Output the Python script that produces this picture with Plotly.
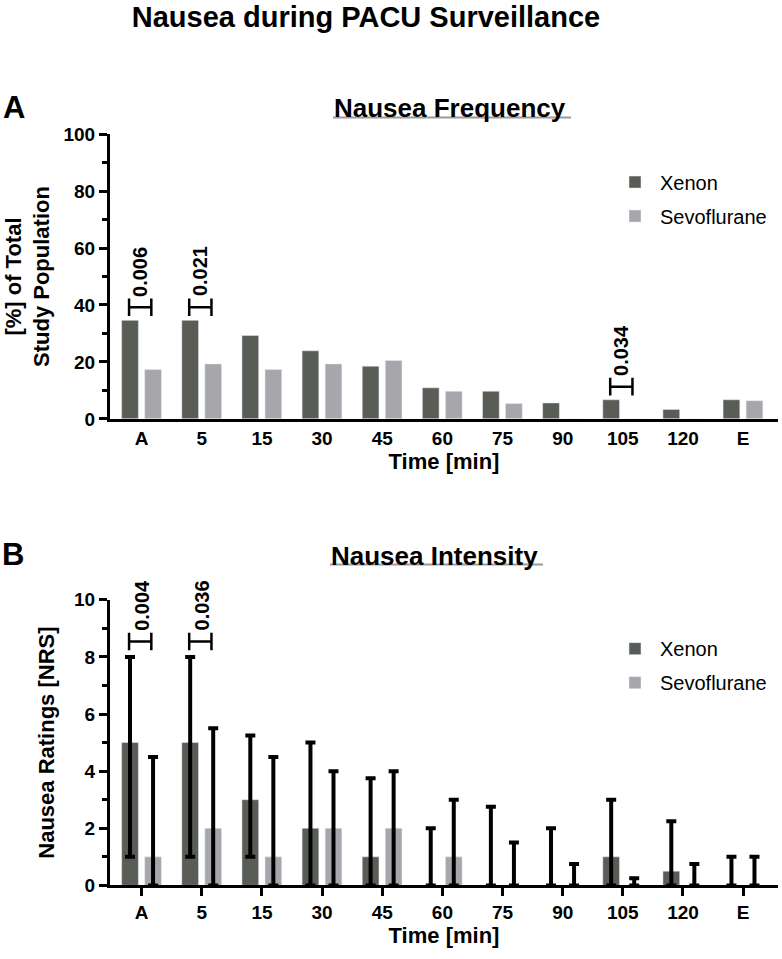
import plotly.graph_objects as go

# ---------------- data ----------------
time_points = ["A", "5", "15", "30", "45", "60", "75", "90", "105", "120", "E"]

# Panel A: nausea frequency [% of total study population]
freq_xenon = [34.6, 34.6, 29.3, 23.9, 18.5, 10.9, 9.7, 5.6, 6.7, 3.3, 6.7]
freq_sevo = [17.3, 19.3, 17.3, 19.3, 20.5, 9.7, 5.4, 0, 0, 0, 6.4]

# Panel B: nausea intensity (median, lower/upper quartile) [NRS]
int_xenon = [5, 5, 3, 2, 1, 0, 0, 0, 1, 0.5, 0]
int_xenon_lo = [1, 1, 1, 0, 0, 0, 0, 0, 0, 0, 0]
int_xenon_hi = [8, 8, 5.25, 5, 3.75, 2, 2.75, 2, 3, 2.25, 1]
int_sevo = [1, 2, 1, 2, 2, 1, 0, 0, 0, 0, 0]
int_sevo_lo = [0, 0, 0, 0, 0, 0, 0, 0, 0, 0, 0]
int_sevo_hi = [4.5, 5.5, 4.5, 4, 4, 3, 1.5, 0.75, 0.25, 0.75, 1]

# significance markers
sigA_idx = [0, 1, 8]
sigA_level = [39.2, 39.2, 11.3]
sigA_p = ["0.006", "0.021", "0.034"]
sigB_idx = [0, 1]
sigB_level = [8.54, 8.54]
sigB_p = ["0.004", "0.036"]

# ---------------- style ----------------
W, H = 782, 959
FONT = "Liberation Sans, Arial, sans-serif"
C_XE = "#5a5c56"
C_SE = "#a7a7ab"
BAR_W = 0.278
OFF_XE = -0.333
OFF_SE = 0.05

xpos = list(range(len(time_points)))

def py(px):  # pixel from top -> paper fraction
    return 1 - px / H

def pxx(px):
    return px / W

fig = go.Figure()

# Panel A bars
fig.add_trace(go.Bar(x=xpos, y=freq_xenon, name="Xenon", marker_color=C_XE,
                     width=BAR_W, offset=OFF_XE, xaxis="x", yaxis="y",
                     legend="legend", legendgroup="xa"))
fig.add_trace(go.Bar(x=xpos, y=freq_sevo, name="Sevoflurane", marker_color=C_SE,
                     width=BAR_W, offset=OFF_SE, xaxis="x", yaxis="y",
                     legend="legend", legendgroup="sa"))

# Panel B bars with quartile whiskers
fig.add_trace(go.Bar(
    x=xpos, y=int_xenon, name="Xenon", marker_color=C_XE,
    width=BAR_W, offset=OFF_XE, xaxis="x2", yaxis="y2",
    legend="legend2", legendgroup="xb",
    error_y=dict(type="data", symmetric=False,
                 array=[h - v for h, v in zip(int_xenon_hi, int_xenon)],
                 arrayminus=[v - l for v, l in zip(int_xenon, int_xenon_lo)],
                 color="black", thickness=4, width=5)))
fig.add_trace(go.Bar(
    x=xpos, y=int_sevo, name="Sevoflurane", marker_color=C_SE,
    width=BAR_W, offset=OFF_SE, xaxis="x2", yaxis="y2",
    legend="legend2", legendgroup="sb",
    error_y=dict(type="data", symmetric=False,
                 array=[h - v for h, v in zip(int_sevo_hi, int_sevo)],
                 arrayminus=[v - l for v, l in zip(int_sevo, int_sevo_lo)],
                 color="black", thickness=4, width=5)))

shapes = []
annotations = []

def bracket(xref, yref, i, level, half):
    x0, x1 = i - 0.21, i + 0.16
    path = (f"M{x0},{level - half} L{x0},{level + half} M{x0},{level} L{x1},{level} "
            f"M{x1},{level - half} L{x1},{level + half}")
    shapes.append(dict(type="path", path=path, xref=xref, yref=yref,
                       line=dict(color="black", width=2.5)))

PFONT = dict(size=20, color="black", family=FONT)
for i, lv, p in zip(sigA_idx, sigA_level, sigA_p):
    bracket("x", "y", i, lv, 3.1)
    annotations.append(dict(x=i - 0.02, y=lv + 3.1, xref="x", yref="y", text=f"<b>{p}</b>",
                            textangle=-90, showarrow=False, xanchor="center", yanchor="bottom",
                            yshift=0, font=PFONT))
for i, lv, p in zip(sigB_idx, sigB_level, sigB_p):
    bracket("x2", "y2", i, lv, 0.31)
    annotations.append(dict(x=i + 0.0, y=lv + 0.31, xref="x2", yref="y2", text=f"<b>{p}</b>",
                            textangle=-90, showarrow=False, xanchor="center", yanchor="bottom",
                            yshift=0, font=PFONT))

# panel titles, underlines, panel letters
annotations += [
    dict(x=pxx(450), y=py(100), xref="paper", yref="paper", text="<b>Nausea Frequency</b>",
         showarrow=False, xanchor="center", yanchor="middle",
         font=dict(size=26, color="black", family=FONT)),
    dict(x=pxx(434), y=py(558), xref="paper", yref="paper", text="<b>Nausea Intensity</b>",
         showarrow=False, xanchor="center", yanchor="middle",
         font=dict(size=26, color="black", family=FONT)),
    dict(x=pxx(14), y=py(100), xref="paper", yref="paper", text="<b>A</b>",
         showarrow=False, xanchor="center", yanchor="middle",
         font=dict(size=31, color="black", family=FONT)),
    dict(x=pxx(13), y=py(557), xref="paper", yref="paper", text="<b>B</b>",
         showarrow=False, xanchor="center", yanchor="middle",
         font=dict(size=31, color="black", family=FONT)),
]
shapes += [
    dict(type="line", xref="paper", yref="paper", x0=pxx(333), x1=pxx(571), y0=py(110), y1=py(110),
         line=dict(color="#9a9a9a", width=2)),
    dict(type="line", xref="paper", yref="paper", x0=pxx(330), x1=pxx(543), y0=py(567), y1=py(567),
         line=dict(color="#9a9a9a", width=2)),
]

xr = [-0.527, 10.58]
axis_font = dict(size=19, color="black", family=FONT)
title_font = dict(size=22, color="black", family=FONT)

common_x = dict(range=xr, tickmode="array", tickvals=xpos,
                ticktext=[f"<b>{t}</b>" for t in time_points],
                showline=True, linecolor="black", linewidth=3, showgrid=False,
                zeroline=False, tickfont=axis_font, domain=[pxx(110), pxx(778)])
common_y = dict(showline=True, linecolor="black", linewidth=3, showgrid=False, zeroline=False,
                ticks="outside", ticklen=8, tickwidth=2.5, tickcolor="black",
                tickfont=axis_font)

fig.update_layout(
    width=W, height=H,
    margin=dict(l=0, r=0, t=0, b=0),
    paper_bgcolor="white", plot_bgcolor="white",
    barmode="overlay",
    font=dict(family=FONT, color="black"),
    title=dict(text="<b>Nausea during PACU Surveillance</b>", x=pxx(366), xanchor="center",
               y=py(17), yanchor="middle", font=dict(size=29, color="black", family=FONT)),
    xaxis=dict(**common_x, anchor="y", ticks="",
               title=dict(text="<b>Time [min]</b>", font=title_font, standoff=6)),
    yaxis=dict(**common_y, range=[0, 100], domain=[py(418), py(127)], anchor="x",
               tickvals=[0, 20, 40, 60, 80, 100],
               ticktext=["<b>0</b>", "<b>20</b>", "<b>40</b>", "<b>60</b>", "<b>80</b>", "<b>100</b>"],
               minor=dict(tickvals=[10, 30, 50, 70, 90], ticks="outside", ticklen=5,
                          tickwidth=2.5, tickcolor="black"),
               title=dict(text="<b>[%] of Total<br>Study Population</b>", font=title_font, standoff=8)),
    xaxis2=dict(**common_x, anchor="y2", ticks="outside", ticklen=8, tickwidth=2.5, tickcolor="black",
                title=dict(text="<b>Time [min]</b>", font=title_font, standoff=6)),
    yaxis2=dict(**common_y, range=[0, 10], domain=[py(895), py(603)], anchor="x2",
                tickvals=[0, 2, 4, 6, 8, 10],
                ticktext=["<b>0</b>", "<b>2</b>", "<b>4</b>", "<b>6</b>", "<b>8</b>", "<b>10</b>"],
                minor=dict(tickvals=[1, 3, 5, 7, 9], ticks="outside", ticklen=5,
                           tickwidth=2.5, tickcolor="black"),
                title=dict(text="<b>Nausea Ratings [NRS]</b>", font=title_font, standoff=14)),
    legend=dict(x=pxx(610), y=py(156), xanchor="left", yanchor="top", bgcolor="rgba(0,0,0,0)",
                font=dict(size=20, color="black", family=FONT), itemwidth=40,
                tracegroupgap=5, traceorder="grouped"),
    legend2=dict(x=pxx(610), y=py(633), xanchor="left", yanchor="top", bgcolor="rgba(0,0,0,0)",
                 font=dict(size=20, color="black", family=FONT), itemwidth=40,
                 tracegroupgap=5, traceorder="grouped"),
    shapes=shapes,
    annotations=annotations,
)

# remove the browser's default 8px body margin so the figure fills the window exactly
fig.write_html("out.html", config={"displayModeBar": False},
               post_script="document.body.style.margin='0px';")
